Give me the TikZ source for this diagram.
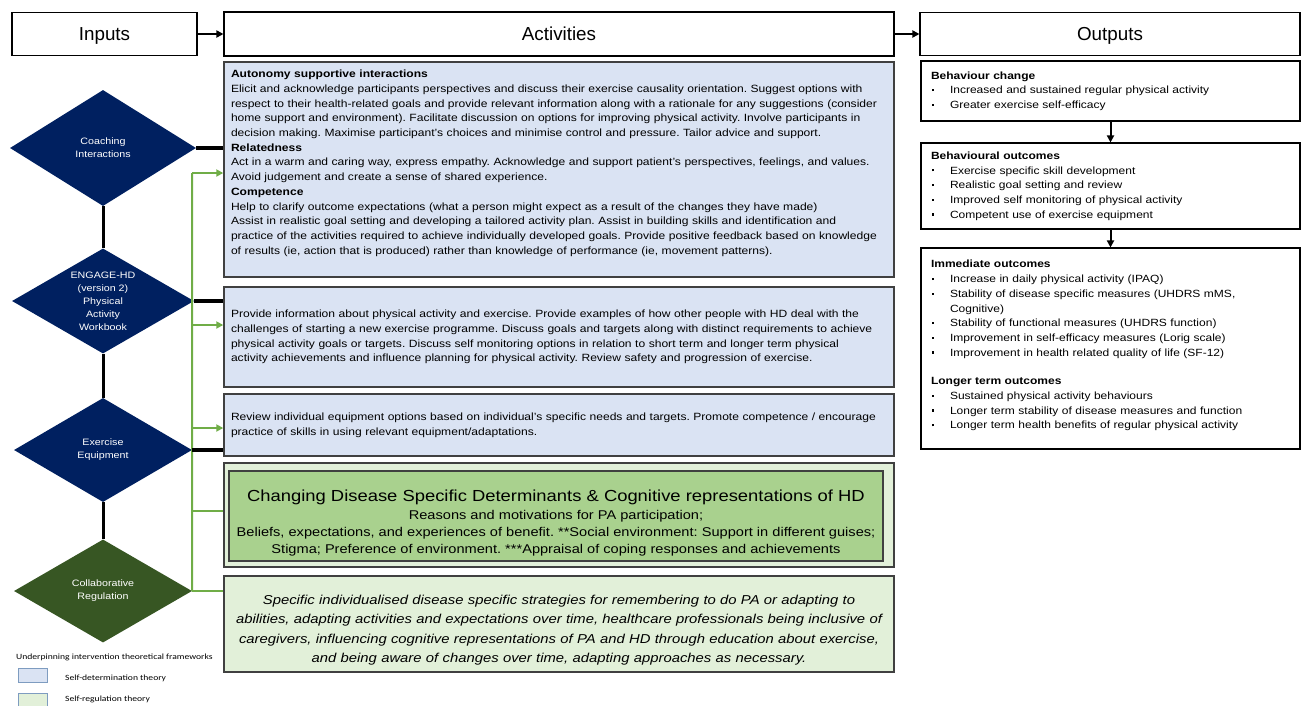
\documentclass[tikz,border=0pt]{standalone}
\usepackage{fontspec}
\setmainfont[FakeStretch=1.15]{Liberation Sans}
\newfontfamily\hdrfont{Liberation Sans}
\newfontfamily\legendfont[FakeStretch=1.2]{Carlito}
\usetikzlibrary{shapes.geometric,arrows.meta,calc}
\frenchspacing

\definecolor{navy}{HTML}{002060}
\definecolor{darkgrn}{HTML}{375623}
\definecolor{sdtblue}{HTML}{DAE3F3}
\definecolor{srtgreen}{HTML}{E2F0D9}
\definecolor{midgreen}{HTML}{A9D18E}
\definecolor{linegreen}{HTML}{70AD47}
\definecolor{boxgray}{HTML}{404040}
\definecolor{legborder}{HTML}{7E9CC0}

\newcommand{\itm}{\makebox[19pt][l]{\hspace{1pt}\raisebox{2.6pt}{\rule{2.2pt}{2.2pt}}}}
\newcommand{\hd}[1]{\textbf{#1}}

\begin{document}
\begin{tikzpicture}
[x=1pt,y=-1pt,
hdr/.style={draw,line width=1.1pt,inner sep=0pt,text height=13.5pt,text depth=0pt,
  font=\hdrfont\fontsize{18.8}{22}\selectfont},
diam/.style={diamond,fill=navy,text=white,inner sep=0pt,aspect=1.6,align=center,
  font=\fontsize{9.3}{13}\selectfont},
actbox/.style={draw=boxgray,line width=1.4pt,fill=sdtblue,inner xsep=7pt,
  text width=656pt,minimum width=670pt,align=left,font=\fontsize{10.5}{14.7}\selectfont},
outbox/.style={draw,line width=1.1pt,inner xsep=10pt,text width=359pt,
  minimum width=379pt,align=left,font=\fontsize{10.45}{14.7}\selectfont},
legbox/.style={draw=legborder,line width=1pt,minimum width=29pt,minimum height=14pt,inner sep=0pt},
legtext/.style={anchor=west,inner sep=0pt,font=\legendfont\fontsize{8}{9}\selectfont},
blk/.style={line width=3pt},
grn/.style={draw=linegreen,line width=2pt},
tip/.style={-{Triangle[length=7pt,width=7pt]}}]

\useasboundingbox (0,0) rectangle (1301,705);

% column headers
\node (inputs) at (104.5,34) [hdr,minimum width=185pt,minimum height=43pt] {Inputs};
\node (acthdr) at (559,34) [hdr,minimum width=670pt,minimum height=44pt] {Activities};
\node (outhdr) at (1110,34) [hdr,minimum width=380pt,minimum height=43pt] {Outputs};

% inputs
\node (coach) at (103,148) [diam,minimum width=186pt,minimum height=116pt] {Coaching\\Interactions};
\node (engage) at (103,301) [diam,minimum width=182pt,minimum height=105pt] {ENGAGE-HD\\(version 2)\\Physical\\Activity\\Workbook};
\node (equip) at (103,450) [diam,minimum width=178pt,minimum height=104pt] {Exercise\\Equipment};
\node (collab) at (103,591) [diam,fill=darkgrn,minimum width=178pt,minimum height=103pt] {Collaborative\\Regulation};

% activities
\node (act1) at (559,169.5) [actbox,minimum height=215pt] {\hd{Autonomy supportive interactions}\\
Elicit and acknowledge participants perspectives and discuss their exercise causality orientation. Suggest options with\\
respect to their health-related goals and provide relevant information along with a rationale for any suggestions (consider\\
home support and environment). Facilitate discussion on options for improving physical activity. Involve participants in\\
decision making. Maximise participant's choices and minimise control and pressure. Tailor advice and support.\\
\hd{Relatedness}\\
Act in a warm and caring way, express empathy. Acknowledge and support patient's perspectives, feelings, and values.\\
Avoid judgement and create a sense of shared experience.\\
\hd{Competence}\\
Help to clarify outcome expectations (what a person might expect as a result of the changes they have made)\\
Assist in realistic goal setting and developing a tailored activity plan. Assist in building skills and identification and\\
practice of the activities required to achieve individually developed goals. Provide positive feedback based on knowledge\\
of results (ie, action that is produced) rather than knowledge of performance (ie, movement patterns).\\
~};
\node (act2) at (559,337) [actbox,minimum height=100pt] {Provide information about physical activity and exercise. Provide examples of how other people with HD deal with the\\
challenges of starting a new exercise programme. Discuss goals and targets along with distinct requirements to achieve\\
physical activity goals or targets. Discuss self monitoring options in relation to short term and longer term physical\\
activity achievements and influence planning for physical activity. Review safety and progression of exercise.};
\node (act3) at (559,425) [actbox,minimum height=62pt] {Review individual equipment options based on individual's specific needs and targets. Promote competence / encourage\\
practice of skills in using relevant equipment/adaptations.};
\node (act4) at (559,515) [actbox,fill=srtgreen,minimum height=104pt] {};
\node (act4in) at (556,516) [draw=boxgray,line width=1.2pt,fill=midgreen,minimum width=654pt,minimum height=90pt,align=center,
  font=\fontsize{12.7}{17}\selectfont] {\rule{0pt}{26pt}{\fontsize{16}{19}\selectfont Changing Disease Specific Determinants \& Cognitive representations of HD}\\[1pt]
Reasons and motivations for PA participation;\\
Beliefs, expectations, and experiences of benefit. **Social environment: Support in different guises;\\
Stigma; Preference of environment. ***Appraisal of coping responses and achievements};
\node (act5) at (559,624) [actbox,fill=srtgreen,minimum height=96pt,align=center,
  font=\fontsize{12.9}{19.3}\selectfont\itshape] {\rule{0pt}{21.5pt}Specific individualised disease specific strategies for remembering to do PA or adapting to\\
abilities, adapting activities and expectations over time, healthcare professionals being inclusive of\\
caregivers, influencing cognitive representations of PA and HD through education about exercise,\\
and being aware of changes over time, adapting approaches as necessary.};

% outputs
\node (out1) at (1110.5,91) [outbox,minimum height=60pt] {\hd{Behaviour change}\\
\itm Increased and sustained regular physical activity\\
\itm Greater exercise self-efficacy};
\node (out2) at (1110.5,186) [outbox,minimum height=86pt] {\hd{Behavioural outcomes}\\
\itm Exercise specific skill development\\
\itm Realistic goal setting and review\\
\itm Improved self monitoring of physical activity\\
\itm Competent use of exercise equipment};
\node (out3) at (1110.5,348.5) [outbox,minimum height=201pt] {\hd{Immediate outcomes}\\
\itm Increase in daily physical activity (IPAQ)\\
\itm Stability of disease specific measures (UHDRS mMS,\\
\hspace*{19pt}Cognitive)\\
\itm Stability of functional measures (UHDRS function)\\
\itm Improvement in self-efficacy measures (Lorig scale)\\
\itm Improvement in health related quality of life (SF-12)\\[14pt]
\hd{Longer term outcomes}\\
\itm Sustained physical activity behaviours\\
\itm Longer term stability of disease measures and function\\
\itm Longer term health benefits of regular physical activity\\[-7pt]
~};

% legend
\node (legtitle) at (16,657) [legtext] {Underpinning intervention theoretical frameworks};
\node (legsdt) at (32.5,675) [legbox,fill=sdtblue] {};
\node (legsdttxt) at (65,678) [legtext] {Self-determination theory};
\node (legsrt) at (32.5,700) [legbox,fill=srtgreen] {};
\node (legsrttxt) at (65,699) [legtext] {Self-regulation theory};

% green links
\coordinate (j1) at (192,173);
\coordinate (j2) at (192,325);
\coordinate (j3) at (192,428);
\coordinate (j4) at (192,511);
\draw[grn] (collab.east) -- (j1);
\draw[grn] (collab.east) -- (collab.east -| act5.west);
\draw[grn] (j4) -- (j4 -| act4.west);
\draw[grn,tip] (j1) -- (j1 -| act1.west);
\draw[grn,tip] (j2) -- (j2 -| act2.west);
\draw[grn,tip] (j3) -- (j3 -| act3.west);

% black links
\draw[blk] (coach) -- (engage);
\draw[blk] (engage) -- (equip);
\draw[blk] (equip) -- (collab);
\draw[line width=4pt] (coach.east) -- (coach.east -| act1.west);
\draw[line width=4pt] (engage.east) -- (engage.east -| act2.west);
\draw[line width=4pt] (equip.east) -- (equip.east -| act3.west);

\draw[line width=2.5pt,tip] (inputs) -- (acthdr);
\draw[line width=2.5pt,tip] (acthdr) -- (outhdr);
\draw[line width=2pt,tip] (out1) -- (out2);
\draw[line width=2pt,tip] (out2) -- (out3);

\end{tikzpicture}
\end{document}
